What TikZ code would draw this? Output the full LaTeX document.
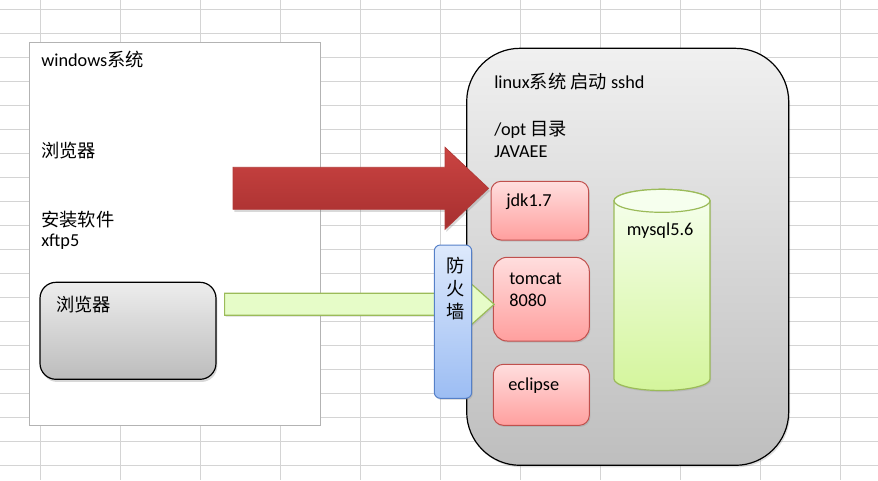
\documentclass[tikz,border=0pt]{standalone}
\usepackage{fontspec}
\setmainfont{Carlito}
\newfontfamily\cjk{Noto Sans CJK SC}
\usetikzlibrary{fit,shadows,calc}
\definecolor{gridc}{HTML}{D4D4D4}
\definecolor{winborder}{HTML}{B3B3B3}
\definecolor{linuxtop}{HTML}{F0F0F0}
\definecolor{linuxbot}{HTML}{BEBEBE}
\definecolor{browtop}{HTML}{EDEDED}
\definecolor{browbot}{HTML}{BCBCBC}
\definecolor{redtop}{HTML}{CB4442}
\definecolor{redbot}{HTML}{A62F2F}
\definecolor{redline}{HTML}{B23A38}
\definecolor{pinktop}{HTML}{FFDEDE}
\definecolor{pinkbot}{HTML}{FF9F9E}
\definecolor{pinkline}{HTML}{C0504D}
\definecolor{greenfill}{HTML}{E6FCC8}
\definecolor{greenline}{HTML}{9BBB59}
\definecolor{cyltop}{HTML}{F6FFEE}
\definecolor{cylbot}{HTML}{D4F59C}
\definecolor{fwtop}{HTML}{DDE9FC}
\definecolor{fwbot}{HTML}{9CBDF3}
\definecolor{fwline}{HTML}{5580C8}
\tikzset{
  gridline/.style={draw=gridc, line width=0.75pt},
  winbox/.style={draw=winborder, fill=white, line width=0.75pt, inner sep=0pt},
  linuxbox/.style={draw=black, line width=0.9pt, rounded corners=40pt, top color=linuxtop, bottom color=linuxbot, inner sep=0pt,
    drop shadow={shadow xshift=1pt, shadow yshift=-1.5pt, opacity=0.25}},
  browbox/.style={draw=black, line width=0.9pt, rounded corners=12pt, top color=browtop, bottom color=browbot, inner sep=0pt,
    drop shadow={shadow xshift=1pt, shadow yshift=-2pt, opacity=0.3}},
  pinkbox/.style={draw=pinkline, line width=0.75pt, rounded corners=#1, top color=pinktop, bottom color=pinkbot, inner sep=0pt,
    drop shadow={shadow xshift=0.8pt, shadow yshift=-1.2pt, opacity=0.25}},
  fwbox/.style={draw=fwline, line width=0.75pt, rounded corners=4.5pt, top color=fwtop, bottom color=fwbot, inner sep=0pt,
    drop shadow={shadow xshift=0.8pt, shadow yshift=-1.2pt, opacity=0.25}},
  redarrow/.style={draw=redline, line width=0.6pt, top color=redtop, bottom color=redbot,
    drop shadow={shadow xshift=1pt, shadow yshift=-2pt, opacity=0.3}},
  greenarrow/.style={draw=greenline, line width=0.9pt, fill=greenfill,
    drop shadow={shadow xshift=0.8pt, shadow yshift=-1.2pt, opacity=0.2}},
  cylbody/.style={draw=greenline, line width=0.9pt, top color=cyltop, bottom color=cylbot,
    drop shadow={shadow xshift=0.8pt, shadow yshift=-1.2pt, opacity=0.2}},
  cyltopstyle/.style={draw=greenline, line width=0.9pt, fill=cyltop},
  txt/.style={inner sep=0pt, anchor=base west, font=\fontsize{13.7}{16.4}\selectfont},
}
\begin{document}
\begin{tikzpicture}[x=0.75pt,y=-0.75pt]
\useasboundingbox (0,0) rectangle (878,480);
% spreadsheet grid
\foreach \x in {40,120,...,840} \draw[gridline] (\x,0) -- (\x,480);
\foreach \y in {9.3,33.3,...,480} \draw[gridline] (0,\y) -- (878,\y);

% windows box
\node[winbox, fit={(29.5,42.5) (320.5,425)}] (win) {};
\node[txt] (wintitle) at (41,66.7) {windows{\cjk 系统}};
\node[txt] (browser1) at (41,157.5) {\cjk 浏览器};
\node[txt] (install) at (41,226.7) {\cjk 安装软件};
\node[txt] (xftp) at (41,246.7) {xftp5};
\node[browbox, fit={(40,282.3) (216,379.3)}] (browser) {};
\node[txt] (browser2) at (56,311.7) {\cjk 浏览器};

% linux box
\node[linuxbox, fit={(466.7,48.3) (788.7,465.3)}] (linux) {};
\node[txt] (lintitle) at (494,88.3) {linux{\cjk 系统 启动} sshd};
\node[txt] (opt) at (494,135) {/opt {\cjk 目录}};
\node[txt] (javaee) at (494,157.7) {JAVAEE};

% jdk box
\node[pinkbox=7.5pt, fit={(491,181.3) (588.7,240)}] (jdk) {};
\node[txt] (jdktext) at (506,206.7) {jdk1.7};

% red arrow windows -> jdk
\coordinate (redtail) at (233,188.3);
\coordinate (redtip) at ([xshift=-1.5pt]jdk.west |- redtail);
\path[redarrow] ($(redtail)+(0,-21)$) -- ($(redtip)+(-43.5,-21)$) -- ($(redtip)+(-43.5,-41)$) -- (redtip)
  -- ($(redtip)+(-43.5,41)$) -- ($(redtip)+(-43.5,21)$) -- ($(redtail)+(0,21)$) -- cycle;

% tomcat, eclipse
\node[pinkbox=10.5pt, fit={(493.3,257.3) (589.3,341)}] (tomcat) {};
\node[txt] (tomcattext) at (509,284) {tomcat};
\node[txt] (porttext) at (509,306.7) {8080};
\node[pinkbox=7.5pt, fit={(493.3,364.3) (589.3,425.3)}] (eclipse) {};
\node[txt] (eclipsetext) at (508,390) {eclipse};

% mysql cylinder
\path[cylbody] (614,200.8) -- (614,379) arc[start angle=180, end angle=0, x radius=48, y radius=11.5]
  -- (710,200.8) arc[start angle=360, end angle=180, x radius=48, y radius=11.5] -- cycle;
\draw[cyltopstyle] (662,200.8) ellipse [x radius=48, y radius=11.5];
\node[txt] (mysqltext) at (626.7,235) {mysql5.6};

% green arrow browser -> tomcat
\coordinate (greentail) at ([xshift=6pt]browser.east |- 0,304.3);
\coordinate (greentip) at ([xshift=1pt]tomcat.west |- greentail);
\path[greenarrow] ($(greentail)+(0,-11)$) -- ($(greentip)+(-24,-11)$) -- ($(greentip)+(-24,-21.5)$) -- (greentip)
  -- ($(greentip)+(-24,21.5)$) -- ($(greentip)+(-24,11)$) -- ($(greentail)+(0,11)$) -- cycle;

% firewall
\node[fwbox, fit={(434.3,245) (471.7,398.3)}] (firewall) {};
\node[inner sep=0pt, align=center, font=\fontsize{13.7}{17.25}\selectfont\cjk] (fwtext) at (455.7,288.5) {防\\火\\墙};
\end{tikzpicture}
\end{document}
